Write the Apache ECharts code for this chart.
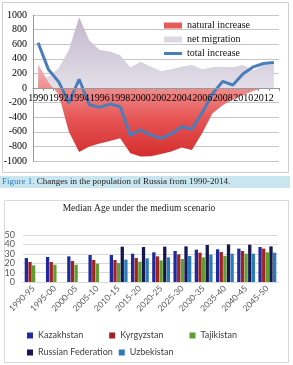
<!DOCTYPE html>
<html>
<head>
<meta charset="utf-8">
<script src="https://cdn.jsdelivr.net/npm/echarts@6/dist/echarts.min.js"></script>
<style>
  html, body { margin: 0; padding: 0; background: #fff; }
  #chart { width: 293px; height: 365px; }
</style>
</head>
<body>
<div id="chart"></div>
<script>
// population change, thousands
var years = ['1990', '1991', '1992', '1993', '1994', '1995', '1996', '1997', '1998', '1999', '2000', '2001',
             '2002', '2003', '2004', '2005', '2006', '2007', '2008', '2009', '2010', '2011', '2012', '2013'];
var naturalIncrease = [325, 80, -90, -600, -875, -800, -760, -725, -690, -895, -940, -935,
                       -905, -870, -815, -850, -620, -350, -235, -155, -96, -41, 0, 5];
var netMigration = [120, 155, 270, 520, 968, 650, 520, 500, 450, 280, 360, 292,
                    233, 256, 292, 315, 256, 283, 292, 283, 315, 240, 315, 324];
var totalIncrease = [620, 255, 86, -205, 120, -230, -265, -220, -255, -645, -575, -645,
                     -690, -630, -530, -565, -340, -80, 90, 41, 195, 290, 335, 350];

// median age
var periods = ['1990-95', '1995-00', '2000-05', '2005-10', '2010-15', '2015-20',
               '2020-25', '2025-30', '2030-35', '2035-40', '2040-45', '2045-50'];
var kazakhstan = [25.5, 26.6, 27.3, 28.7, 28.7, 30.1, 31.6, 33, 34.4, 34.8, 35.5, 37.2];
var kyrgyzstan = [21.3, 21.3, 22.3, 23.4, 23.4, 25.5, 27.3, 29.4, 31.2, 31.9, 33, 35.5];
var tajikistan = [17.7, 18.4, 18.4, 19.5, 20.2, 21.6, 23, 24.5, 26.2, 27.7, 30.1, 31.6];
var russia = [null, null, null, null, 37.6, 37.2, 37.6, 37.9, 39.4, 40, 39.7, 37.9];
var uzbekistan = [null, null, null, null, 23.8, 25.2, 26.2, 27.7, 29.1, 30.1, 30.1, 31.2];

var serif = "'Liberation Serif', 'Times New Roman', serif";
var sans = "Lato, 'Liberation Sans', sans-serif";

var myChart = echarts.init(document.getElementById('chart'));

var option = {
    animation: false,
    graphic: [
        { type: 'rect', shape: { x: 2.5, y: 2.5, width: 286, height: 170 },
          style: { fill: 'none', stroke: '#cfcfcf', lineWidth: 1 }, z: -1 },
        { type: 'rect', shape: { x: 0, y: 176, width: 290, height: 12 },
          style: { fill: '#c9e5ee' }, z: -1 },
        { type: 'text', x: 2, y: 182,
          style: {
              text: '{a|Figure 1.} Changes in the population of Russia from 1990-2014.',
              font: '9px ' + serif, fill: '#222', verticalAlign: 'middle',
              rich: { a: { fill: '#2f7dc0', font: '9px ' + serif } }
          } },
        { type: 'rect', shape: { x: 4.5, y: 200.5, width: 284, height: 162 },
          style: { fill: 'none', stroke: '#d9d9d9', lineWidth: 1 }, z: -1 },
        { type: 'text', x: 139, y: 208,
          style: { text: 'Median Age under the medium scenario', font: '9.5px ' + serif,
                   fill: '#222', align: 'center', verticalAlign: 'middle' } }
    ],
    legend: [
        {
            orient: 'vertical',
            left: 159, top: 15,
            itemWidth: 18, itemHeight: 6, itemGap: 3,
            textStyle: { fontFamily: serif, fontSize: 10, color: '#111', lineHeight: 11 },
            data: [
                { name: 'natural increase', icon: 'rect', itemStyle: { color: '#e65a5a' } },
                { name: 'net migration', icon: 'rect', itemStyle: { color: '#dcd7e3' } },
                { name: 'total increase', icon: 'path://M0,0 L60,0 L60,10 L0,10 Z',
                  itemStyle: { color: '#4a7ebb' } }
            ]
        },
        {
            left: 22, top: 326,
            itemWidth: 6, itemHeight: 6, itemGap: 26, icon: 'rect',
            textStyle: { fontFamily: sans, fontSize: 9, color: '#404040' },
            data: ['Kazakhstan', 'Kyrgyzstan', 'Tajikistan']
        },
        {
            left: 22, top: 343,
            itemWidth: 6, itemHeight: 6, itemGap: 6, icon: 'rect',
            textStyle: { fontFamily: sans, fontSize: 9, color: '#404040' },
            data: ['Russian Federation', 'Uzbekistan']
        }
    ],
    grid: [
        { left: 33, top: 15, width: 246, height: 146 },
        { left: 23, top: 235, width: 255, height: 47 }
    ],
    xAxis: [
        {
            type: 'category',
            gridIndex: 0,
            data: years,
            boundaryGap: true,
            position: 'bottom',
            offset: -73,
            z: 10,
            axisLine: { onZero: false, lineStyle: { color: '#999' } },
            axisTick: { show: true, interval: 0, length: 3, lineStyle: { color: '#999' } },
            axisLabel: { interval: 1, margin: 5, hideOverlap: false, fontFamily: serif, fontSize: 10, color: '#000' }
        },
        {
            type: 'category',
            gridIndex: 1,
            data: periods,
            axisLine: { lineStyle: { color: '#d9d9d9' } },
            axisTick: { show: false },
            axisLabel: { interval: 0, rotate: 45, margin: 5, fontFamily: sans, fontSize: 8.5, color: '#595959' }
        }
    ],
    yAxis: [
        {
            type: 'value',
            gridIndex: 0,
            min: -1000, max: 1000, interval: 200,
            axisLine: { show: true, lineStyle: { color: '#999' } },
            axisTick: { show: false },
            axisLabel: {
                margin: 6, hideOverlap: false, fontFamily: serif, fontSize: 10, color: '#000',
                formatter: function (v) { return String(v); }
            },
            splitLine: { lineStyle: { color: '#c6c6c6' } }
        },
        {
            type: 'value',
            gridIndex: 1,
            min: 0, max: 50, interval: 10,
            axisLine: { show: false },
            axisTick: { show: false },
            axisLabel: { margin: 8, fontFamily: sans, fontSize: 9, color: '#595959' },
            splitLine: { lineStyle: { color: '#d9d9d9' } }
        }
    ],
    series: [
        {
            name: 'net migration', type: 'line', xAxisIndex: 0, yAxisIndex: 0,
            data: netMigration, symbol: 'none', color: '#dcd7e3',
            lineStyle: { width: 0 },
            areaStyle: {
                opacity: 1,
                color: new echarts.graphic.LinearGradient(0, 0, 0, 1, [
                    { offset: 0, color: '#c2b7cb' },
                    { offset: 1, color: '#e3dfe9' }
                ])
            }
        },
        {
            name: 'natural increase', type: 'line', xAxisIndex: 0, yAxisIndex: 0,
            data: naturalIncrease, symbol: 'none', color: '#e65a5a',
            lineStyle: { width: 0 },
            areaStyle: {
                opacity: 1,
                color: new echarts.graphic.LinearGradient(0, 0, 0, 1, [
                    { offset: 0, color: '#eeb4bb' },
                    { offset: 0.26, color: '#f08c8c' },
                    { offset: 0.6, color: '#e65353' },
                    { offset: 1, color: '#d42e2e' }
                ])
            }
        },
        {
            name: 'total increase', type: 'line', xAxisIndex: 0, yAxisIndex: 0,
            data: totalIncrease, symbol: 'none', color: '#4a7ebb',
            lineStyle: { width: 3, color: '#4a7ebb' }
        },
        { name: 'Kazakhstan', type: 'bar', xAxisIndex: 1, yAxisIndex: 1, data: kazakhstan,
          color: '#1f2a9c', barGap: '10%', barCategoryGap: '16%' },
        { name: 'Kyrgyzstan', type: 'bar', xAxisIndex: 1, yAxisIndex: 1, data: kyrgyzstan,
          color: '#a02222' },
        { name: 'Tajikistan', type: 'bar', xAxisIndex: 1, yAxisIndex: 1, data: tajikistan,
          color: '#5f9e30' },
        { name: 'Russian Federation', type: 'bar', xAxisIndex: 1, yAxisIndex: 1, data: russia,
          color: '#17174f' },
        { name: 'Uzbekistan', type: 'bar', xAxisIndex: 1, yAxisIndex: 1, data: uzbekistan,
          color: '#2b7bbb' }
    ]
};

myChart.setOption(option);
</script>
</body>
</html>
